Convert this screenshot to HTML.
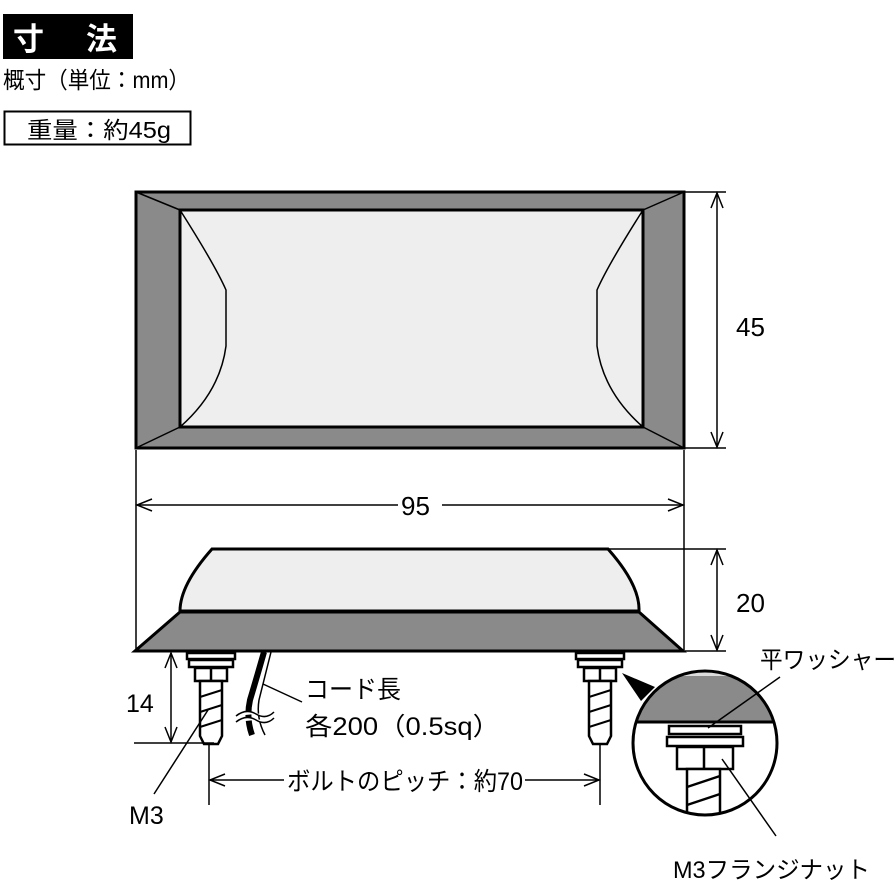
<!DOCTYPE html>
<html><head><meta charset="utf-8"><style>
body{margin:0;background:#fff;}
svg{display:block;}
text{font-family:"Liberation Sans","Noto Sans CJK JP",sans-serif;fill:#000;}
</style></head><body>
<svg width="896" height="896" viewBox="0 0 896 896" xmlns="http://www.w3.org/2000/svg">
<defs>
<clipPath id="cc"><circle cx="705" cy="743" r="72"/></clipPath>
</defs>
<!-- header -->
<rect x="3" y="14" width="130" height="45" fill="#000"/>
<text x="13" y="50" font-size="31" font-weight="bold" style="fill:#fff">寸</text>
<text x="86" y="50" font-size="31" font-weight="bold" style="fill:#fff">法</text>
<text x="3" y="88" font-size="23" textLength="187" lengthAdjust="spacingAndGlyphs">概寸（単位：mm）</text>
<rect x="4.5" y="111.5" width="186" height="33" fill="none" stroke="#000" stroke-width="2"/>
<text x="27" y="138" font-size="23" textLength="144" lengthAdjust="spacingAndGlyphs">重量：約45g</text>

<!-- top view -->
<rect x="136" y="192" width="548" height="256" fill="#8a8a8a" stroke="#000" stroke-width="3"/>
<rect x="180" y="210" width="463" height="217" fill="#eeeeee" stroke="#000" stroke-width="3"/>
<g stroke="#000" stroke-width="1.5" fill="none">
<line x1="136" y1="192" x2="180" y2="210"/><line x1="684" y1="192" x2="643" y2="210"/>
<line x1="136" y1="448" x2="180" y2="427"/><line x1="684" y1="448" x2="643" y2="427"/>
<path d="M180 210 Q215 265 226 290 L226 346 Q220 392 180 427"/>
<path d="M643 210 Q608 265 597 290 L597 346 Q603 392 643 427"/>
</g>
<!-- dims -->
<g stroke="#000" stroke-width="1.5" fill="none">
<line x1="684" y1="192" x2="726" y2="192"/><line x1="684" y1="448" x2="726" y2="448"/>
<line x1="717" y1="193" x2="717" y2="447"/>
<polyline points="711,208 717,193 723,208"/><polyline points="711,432 717,447 723,432"/>
<line x1="136" y1="450" x2="136" y2="650"/><line x1="684" y1="450" x2="684" y2="650"/>
<line x1="137" y1="505" x2="398" y2="505"/><line x1="442" y1="505" x2="683" y2="505"/>
<polyline points="152,499 137,505 152,511"/><polyline points="668,499 683,505 668,511"/>
<line x1="608" y1="549" x2="726" y2="549"/><line x1="684" y1="651" x2="726" y2="651"/>
<line x1="717" y1="550" x2="717" y2="650"/>
<polyline points="711,565 717,550 723,565"/><polyline points="711,635 717,650 723,635"/>
</g>
<text x="736" y="336" font-size="26">45</text>
<text x="401" y="515" font-size="26">95</text>
<text x="736" y="612" font-size="26">20</text>

<!-- side view -->
<path d="M212 549 L608 549 Q640 585 639 611 L180 611 Q180 585 212 549 Z" fill="#eeeeee" stroke="#000" stroke-width="3"/>
<path d="M180 612 L639 612 L683 651 L135 651 Z" fill="#8a8a8a" stroke="#000" stroke-width="3"/>

<!-- left bolt -->
<g stroke="#000" stroke-width="2.5" fill="#fff">
<rect x="187" y="653" width="48" height="6"/>
<rect x="189" y="660" width="44" height="7"/>
<rect x="195" y="668" width="32" height="13"/>
<line x1="211" y1="668" x2="211" y2="681"/>
<path d="M200 681 L222 681 L222 736 L218 744 L204 744 L200 736 Z"/>
<g stroke-width="2"><line x1="200" y1="697" x2="222" y2="690"/><line x1="200" y1="712" x2="222" y2="705"/><line x1="200" y1="727" x2="222" y2="720"/></g>
</g>
<!-- right bolt -->
<g stroke="#000" stroke-width="2.5" fill="#fff">
<rect x="576" y="653" width="48" height="6"/>
<rect x="578" y="660" width="44" height="7"/>
<rect x="584" y="668" width="32" height="13"/>
<line x1="600" y1="668" x2="600" y2="681"/>
<path d="M589 681 L611 681 L611 736 L607 744 L593 744 L589 736 Z"/>
<g stroke-width="2"><line x1="589" y1="697" x2="611" y2="690"/><line x1="589" y1="712" x2="611" y2="705"/><line x1="589" y1="727" x2="611" y2="720"/></g>
</g>
<!-- cord -->
<path d="M264 652 Q256 680 250 700 Q246 718 252 735" stroke="#000" stroke-width="6" fill="none"/>
<path d="M271 652 Q264 680 259 700 Q256 718 265 735" stroke="#000" stroke-width="1.5" fill="none"/>
<path d="M236 716 Q246 708 256 714 Q266 720 274 712 M236 722 Q246 714 256 720 Q266 726 274 718" stroke="#000" stroke-width="1.5" fill="#fff"/>
<g stroke="#000" stroke-width="1.5" fill="none">
<line x1="263" y1="684" x2="302" y2="702"/>
<!-- 14 dim -->
<line x1="134" y1="743" x2="214" y2="743"/>
<line x1="171" y1="653" x2="171" y2="742"/>
<polyline points="165,668 171,653 177,668"/><polyline points="165,727 171,742 177,727"/>
<line x1="208" y1="710" x2="154" y2="794"/>
<!-- pitch -->
<line x1="209" y1="745" x2="209" y2="805"/><line x1="600" y1="745" x2="600" y2="805"/>
<line x1="210" y1="780" x2="284" y2="780"/><line x1="525" y1="780" x2="599" y2="780"/>
<polyline points="225,774 210,780 225,786"/><polyline points="584,774 599,780 584,786"/>
</g>
<text x="305" y="698" font-size="25" textLength="96" lengthAdjust="spacingAndGlyphs">コード長</text>
<text x="305" y="735" font-size="25" textLength="195" lengthAdjust="spacingAndGlyphs">各200（0.5sq）</text>
<text x="129" y="824" font-size="25">M3</text>
<text x="126" y="712" font-size="25">14</text>
<text x="287" y="790" font-size="25" textLength="236" lengthAdjust="spacingAndGlyphs">ボルトのピッチ：約70</text>

<!-- detail circle -->
<path d="M622 673 L655 687 L641 701 Z" fill="#000"/>
<g clip-path="url(#cc)">
<rect x="630" y="668" width="160" height="160" fill="#fff"/>
<rect x="630" y="668" width="160" height="54" fill="#8a8a8a"/>
<rect x="630" y="668" width="160" height="8" fill="#ddd"/>
<line x1="630" y1="722" x2="790" y2="722" stroke="#000" stroke-width="3"/>
<g stroke="#000" stroke-width="2.5" fill="#fff">
<rect x="669" y="726" width="72" height="8"/>
<rect x="667" y="737" width="76" height="9"/>
<rect x="677" y="747" width="56" height="22"/>
<line x1="704" y1="747" x2="704" y2="769"/>
<rect x="687" y="769" width="33" height="50"/>
<line x1="687" y1="787" x2="720" y2="776"/><line x1="687" y1="805" x2="720" y2="794"/>
</g>
</g>
<circle cx="705" cy="743" r="72" fill="none" stroke="#000" stroke-width="3"/>
<g stroke="#000" stroke-width="1.5">
<line x1="708" y1="728" x2="780" y2="677"/>
<line x1="722" y1="759" x2="776" y2="836"/>
</g>
<text x="760" y="668" font-size="24" textLength="136" lengthAdjust="spacingAndGlyphs">平ワッシャー</text>
<text x="673" y="878" font-size="24" textLength="197" lengthAdjust="spacingAndGlyphs">M3フランジナット</text>
</svg>
</body></html>
